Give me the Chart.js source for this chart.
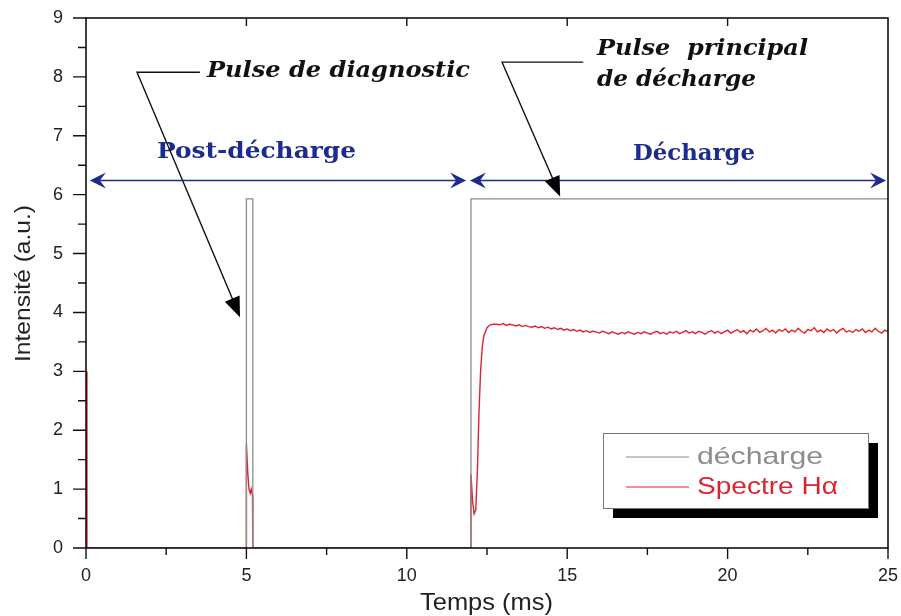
<!DOCTYPE html>
<html>
<head>
<meta charset="utf-8">
<script src="https://cdn.jsdelivr.net/npm/chart.js@4/dist/chart.umd.min.js"></script>
<style>
  body { margin: 0; background: #fff; }
  #wrap { width: 901px; height: 616px; }
</style>
</head>
<body>
<div id="wrap"><canvas id="chart" width="901" height="616"></canvas></div>
<script>
// discharge pulse (gray)
const dechargeTimes = [0, 5.0, 5.0, 5.2, 5.2, 12.0, 12.0, 25];
const dechargeValues = [0, 0, 5.93, 5.93, 0, 0, 5.93, 5.93];

// H-alpha emission (red)
const halphaTimes = [
  0, 0.03, 4.99, 5.0, 5.04, 5.08, 5.12, 5.15, 5.19, 5.2, 11.99,
  12.0, 12.05, 12.1, 12.15, 12.2, 12.25, 12.3, 12.35, 12.4, 12.5, 12.6, 12.7,
  12.8, 12.9, 13.0, 13.1, 13.2, 13.3, 13.4, 13.5, 13.6, 13.7, 13.8, 13.9,
  14.0, 14.1, 14.2, 14.3, 14.4, 14.5, 14.6, 14.7, 14.8, 14.9,
  15.0, 15.1, 15.2, 15.3, 15.4, 15.5, 15.6, 15.7, 15.8, 15.9,
  16.0, 16.1, 16.2, 16.3, 16.4, 16.5, 16.6, 16.7, 16.8, 16.9,
  17.0, 17.1, 17.2, 17.3, 17.4, 17.5, 17.6, 17.7, 17.8, 17.9,
  18.0, 18.1, 18.2, 18.3, 18.4, 18.5, 18.6, 18.7, 18.8, 18.9,
  19.0, 19.1, 19.2, 19.3, 19.4, 19.5, 19.6, 19.7, 19.8, 19.9,
  20.0, 20.1, 20.2, 20.3, 20.4, 20.5, 20.6, 20.7, 20.8, 20.9,
  21.0, 21.1, 21.2, 21.3, 21.4, 21.5, 21.6, 21.7, 21.8, 21.9,
  22.0, 22.1, 22.2, 22.3, 22.4, 22.5, 22.6, 22.7, 22.8, 22.9,
  23.0, 23.1, 23.2, 23.3, 23.4, 23.5, 23.6, 23.7, 23.8, 23.9,
  24.0, 24.1, 24.2, 24.3, 24.4, 24.5, 24.6, 24.7, 24.8, 24.9,
  25.0
];
const halphaValues = [
  3.0, 0, 0, 1.78, 1.3, 1.0, 0.93, 1.0, 0.9, 0, 0,
  1.25, 0.8, 0.58, 0.65, 1.3, 2.3, 3.0, 3.4, 3.6, 3.74, 3.79, 3.80,
  3.80, 3.79, 3.81, 3.78, 3.80, 3.79, 3.77, 3.79, 3.76, 3.78, 3.76, 3.75,
  3.77, 3.74, 3.76, 3.73, 3.75, 3.72, 3.74, 3.71, 3.73, 3.70,
  3.72, 3.69, 3.71, 3.68, 3.70, 3.67, 3.69, 3.66, 3.68, 3.67,
  3.65, 3.68, 3.66, 3.64, 3.67, 3.65, 3.63, 3.66, 3.64, 3.67,
  3.65, 3.63, 3.66, 3.64, 3.67, 3.65, 3.63, 3.66, 3.68, 3.64,
  3.66, 3.63, 3.67, 3.65, 3.68, 3.64, 3.66, 3.69, 3.65, 3.67,
  3.64, 3.68, 3.66, 3.63, 3.67, 3.69, 3.65, 3.68, 3.64, 3.67,
  3.70, 3.65, 3.68, 3.71, 3.66, 3.69, 3.64, 3.70, 3.67, 3.72,
  3.66, 3.69, 3.73, 3.67, 3.70, 3.65, 3.71, 3.68, 3.72, 3.66,
  3.70, 3.67, 3.73, 3.68, 3.65, 3.71, 3.69, 3.74, 3.67, 3.70,
  3.66, 3.72, 3.68, 3.71, 3.65, 3.70, 3.73, 3.67, 3.69, 3.66,
  3.71, 3.68, 3.72, 3.66, 3.70, 3.67, 3.73, 3.68, 3.65, 3.70,
  3.67
];

const xTicks = [0, 5, 10, 15, 20, 25];
const yTicks = [0, 1, 2, 3, 4, 5, 6, 7, 8, 9];
const seriesLabels = ['décharge', 'Spectre Hα'];

const GRAY = '#8c8c8c';
const RED = '#dc2430';
const BLUE = '#1c2c8c';
const SERIF = '"DejaVu Serif", "Liberation Serif", serif';
const SANS = '"Liberation Sans", Arial, sans-serif';

function toPoints(xs, ys) {
  return xs.map((x, i) => ({ x, y: ys[i] }));
}

// draw text stretched to a given width
function fitText(ctx, text, x, y, width) {
  const w = ctx.measureText(text).width;
  ctx.save();
  ctx.translate(x, y);
  ctx.scale(width / w, 1);
  ctx.fillText(text, 0, 0);
  ctx.restore();
}

function filledHead(ctx, fx, fy, tx, ty, len, half, color) {
  const a = Math.atan2(ty - fy, tx - fx);
  ctx.save();
  ctx.translate(tx, ty);
  ctx.rotate(a);
  ctx.fillStyle = color;
  ctx.beginPath();
  ctx.moveTo(0, 0);
  ctx.lineTo(-len, -half);
  ctx.lineTo(-len, half);
  ctx.closePath();
  ctx.fill();
  ctx.restore();
}

function barbHead(ctx, tx, ty, dir, color) {
  ctx.save();
  ctx.translate(tx, ty);
  ctx.scale(dir, 1);
  ctx.fillStyle = color;
  ctx.beginPath();
  ctx.moveTo(0, 0);
  ctx.lineTo(-16, -8);
  ctx.lineTo(-10, 0);
  ctx.lineTo(-16, 8);
  ctx.closePath();
  ctx.fill();
  ctx.restore();
}

const decorPlugin = {
  id: 'decor',
  afterDatasetsDraw(chart) {
    const { ctx, chartArea: a, scales } = chart;
    const sx = scales.x, sy = scales.y;
    const px = (v) => sx.getPixelForValue(v);
    const py = (v) => sy.getPixelForValue(v);

    ctx.save();
    // frame
    ctx.strokeStyle = '#111';
    ctx.lineWidth = 1.6;
    ctx.strokeRect(a.left, a.top, a.right - a.left, a.bottom - a.top);

    // ticks
    ctx.lineWidth = 1.4;
    ctx.beginPath();
    for (let v = 0; v <= 9; v += 0.5) {
      const y = py(v);
      const major = Number.isInteger(v);
      ctx.moveTo(a.left - (major ? 13 : 8), y);
      ctx.lineTo(a.left, y);
    }
    for (let v = 0; v <= 25; v += 2.5) {
      const x = px(v);
      const major = v % 5 === 0;
      ctx.moveTo(x, a.bottom);
      ctx.lineTo(x, a.bottom + (major ? 11 : 7));
      if (major && v > 0 && v < 25) {
        ctx.moveTo(x, a.top);
        ctx.lineTo(x, a.top + 8);
      }
    }
    ctx.stroke();

    // axis titles
    ctx.fillStyle = '#222';
    ctx.textAlign = 'left';
    ctx.textBaseline = 'alphabetic';
    ctx.font = '24px ' + SANS;
    fitText(ctx, 'Temps (ms)', 420, 610, 133);
    ctx.font = '22px ' + SANS;
    ctx.save();
    ctx.translate(30, 362);
    ctx.rotate(-Math.PI / 2);
    fitText(ctx, 'Intensité (a.u.)', 0, 0, 157);
    ctx.restore();

    // region arrows
    ctx.strokeStyle = BLUE;
    ctx.lineWidth = 1.6;
    const ya = py(6.24);
    const l0 = px(0.12), l1 = px(11.85), r0 = px(11.97), r1 = px(24.94);
    ctx.beginPath();
    ctx.moveTo(l0 + 6, ya); ctx.lineTo(l1 - 6, ya);
    ctx.moveTo(r0 + 6, ya); ctx.lineTo(r1 - 6, ya);
    ctx.stroke();
    barbHead(ctx, l0, ya, -1, BLUE);
    barbHead(ctx, l1, ya, 1, BLUE);
    barbHead(ctx, r0, ya, -1, BLUE);
    barbHead(ctx, r1, ya, 1, BLUE);

    ctx.fillStyle = BLUE;
    ctx.font = 'bold 22px ' + SERIF;
    fitText(ctx, 'Post-décharge', 157, 158, 199);
    fitText(ctx, 'Décharge', 633, 160, 122);

    // leader lines
    ctx.strokeStyle = '#111';
    ctx.lineWidth = 1.4;
    const d0x = px(1.59), d0y = py(8.08), d1x = px(3.55), tipDx = px(4.8), tipDy = py(3.92);
    ctx.beginPath();
    ctx.moveTo(d1x, d0y); ctx.lineTo(d0x, d0y); ctx.lineTo(tipDx - 4, tipDy - 10);
    ctx.stroke();
    filledHead(ctx, d0x, d0y, tipDx, tipDy, 20, 8, '#000');

    const p0x = px(12.97), p0y = py(8.25), p1x = px(15.5), tipPx = px(14.78), tipPy = py(5.97);
    ctx.beginPath();
    ctx.moveTo(p1x, p0y); ctx.lineTo(p0x, p0y); ctx.lineTo(tipPx - 4, tipPy - 10);
    ctx.stroke();
    filledHead(ctx, p0x, p0y, tipPx, tipPy, 20, 8, '#000');

    ctx.fillStyle = '#111';
    ctx.font = 'italic bold 22px ' + SERIF;
    fitText(ctx, 'Pulse de diagnostic', 207, 77, 263);
    fitText(ctx, 'Pulse  principal', 597, 55, 211);
    fitText(ctx, 'de décharge', 597, 86, 159);

    // legend box with shadow
    const bx = 603, by = 433, bw = 265, bh = 75;
    ctx.fillStyle = '#000';
    ctx.fillRect(bx + 10, by + 10, bw, bh);
    ctx.fillStyle = '#fff';
    ctx.fillRect(bx, by, bw, bh);
    ctx.strokeStyle = '#777';
    ctx.lineWidth = 1;
    ctx.strokeRect(bx + 0.5, by + 0.5, bw, bh);
    const rows = [[GRAY, 457, 126], [RED, 487, 141]];
    ctx.font = '24px ' + SANS;
    ctx.textBaseline = 'middle';
    rows.forEach(([c, y, w], i) => {
      ctx.strokeStyle = c;
      ctx.lineWidth = 1.2;
      ctx.beginPath();
      ctx.moveTo(626, y); ctx.lineTo(689, y);
      ctx.stroke();
      ctx.fillStyle = c;
      fitText(ctx, seriesLabels[i], 697, y, w);
    });
    ctx.restore();
  }
};

new Chart(document.getElementById('chart'), {
  type: 'line',
  data: {
    datasets: [
      {
        label: seriesLabels[0],
        data: toPoints(dechargeTimes, dechargeValues),
        borderColor: GRAY,
        borderWidth: 1.3,
        pointRadius: 0,
        tension: 0,
      },
      {
        label: seriesLabels[1],
        data: toPoints(halphaTimes, halphaValues),
        borderColor: RED,
        borderWidth: 1.4,
        pointRadius: 0,
        tension: 0,
      },
    ],
  },
  options: {
    responsive: false,
    animation: false,
    layout: { padding: { top: 18, right: 13, left: 0, bottom: 0 } },
    plugins: { legend: { display: false }, tooltip: { enabled: false } },
    scales: {
      x: {
        type: 'linear',
        min: 0,
        max: 25,
        afterBuildTicks: (s) => { s.ticks = xTicks.map((v) => ({ value: v })); },
        afterFit: (s) => { s.height = 68; s.paddingLeft = 0; s.paddingRight = 0; },
        grid: { display: false, drawTicks: false },
        border: { display: false },
        ticks: { color: '#222', font: { family: SANS, size: 18 }, padding: 17, maxRotation: 0 },
      },
      y: {
        min: 0,
        max: 9,
        afterBuildTicks: (s) => { s.ticks = yTicks.map((v) => ({ value: v })); },
        afterFit: (s) => { s.width = 86; s.paddingTop = 0; s.paddingBottom = 0; },
        grid: { display: false, drawTicks: false },
        border: { display: false },
        ticks: { color: '#222', font: { family: SANS, size: 18 }, padding: 23 },
      },
    },
  },
  plugins: [decorPlugin],
});
</script>
</body>
</html>
